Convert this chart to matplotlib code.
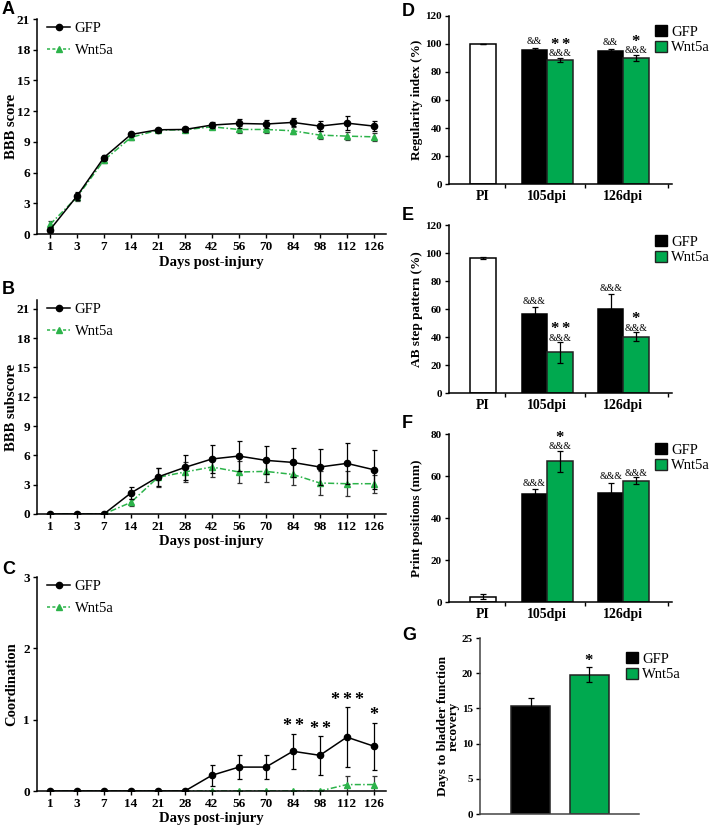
import matplotlib
matplotlib.use('Agg')
import matplotlib.pyplot as plt
from matplotlib.patches import Patch
from matplotlib.lines import Line2D

plt.rcParams['font.family'] = 'Liberation Serif'
plt.rcParams['font.weight'] = 'bold'
plt.rcParams['axes.labelweight'] = 'bold'
plt.rcParams['mathtext.fontset'] = 'custom'
plt.rcParams['mathtext.rm'] = 'Liberation Serif'
plt.rcParams['mathtext.bf'] = 'Liberation Serif:bold'

# ---- data ----
days = ['1', '3', '7', '14', '21', '28', '42', '56', '70', '84', '98', '112', '126']

bbb_gfp = [0.41, 3.7, 7.47, 9.72, 10.18, 10.21, 10.64, 10.8, 10.74, 10.9, 10.54, 10.83, 10.54]
bbb_gfp_err = [0.25, 0.4, 0.25, 0.15, 0.2, 0.2, 0.3, 0.4, 0.35, 0.4, 0.5, 0.7, 0.5]
bbb_wnt = [0.93, 3.6, 7.2, 9.43, 10.15, 10.18, 10.47, 10.21, 10.21, 10.08, 9.66, 9.56, 9.49]
bbb_wnt_err = [0.35, 0.4, 0.3, 0.2, 0.15, 0.2, 0.2, 0.3, 0.3, 0.35, 0.4, 0.4, 0.4]

sub_gfp = [0, 0, 0, 2.15, 3.79, 4.77, 5.63, 5.93, 5.49, 5.28, 4.81, 5.18, 4.53]
sub_gfp_err = [0, 0, 0, 0.57, 0.9, 1.25, 1.45, 1.55, 1.43, 1.47, 1.87, 2.08, 1.97]
sub_wnt = [0, 0, 0, 1.19, 3.75, 4.3, 4.81, 4.3, 4.36, 4.05, 3.17, 3.1, 3.1]
sub_wnt_err = [0, 0, 0, 0.35, 1.0, 1.0, 1.0, 1.1, 1.1, 1.1, 1.25, 1.3, 0.9]

coord_gfp = [0, 0, 0, 0, 0, 0, 0.22, 0.335, 0.335, 0.557, 0.5, 0.755, 0.628]
coord_gfp_err = [0, 0, 0, 0, 0, 0, 0.15, 0.167, 0.167, 0.245, 0.27, 0.42, 0.33]
coord_wnt = [0, 0, 0, 0, 0, 0, 0, 0, 0, 0, 0, 0.09, 0.09]
coord_wnt_err = [0, 0, 0, 0, 0, 0, 0, 0, 0, 0, 0, 0.12, 0.12]
coord_stars = ['', '', '', '', '', '', '', '', '', '**', '**', '***', '*']

groups = ['PI', '105dpi', '126dpi']

reg_pi, reg_pi_err = 100, 0.3
reg_gfp, reg_gfp_err = [95.7, 95.2], [1.7, 1.5]
reg_wnt, reg_wnt_err = [88.6, 90.2], [1.7, 2.0]
reg_gfp_amp = ['&&', '&&']
reg_wnt_amp = ['&&&', '&&&']
reg_wnt_star = ['**', '*']

ab_pi, ab_pi_err = 96.4, 1.0
ab_gfp, ab_gfp_err = [56.7, 60.0], [4.6, 10.5]
ab_wnt, ab_wnt_err = [29.0, 40.2], [7.3, 3.2]
ab_gfp_amp = ['&&&', '&&&']
ab_wnt_amp = ['&&&', '&&&']
ab_wnt_star = ['**', '*']

pp_pi, pp_pi_err = 2.4, 1.2
pp_gfp, pp_gfp_err = [51.3, 51.9], [2.4, 5.0]
pp_wnt, pp_wnt_err = [67.1, 57.8], [5.0, 1.6]
pp_gfp_amp = ['&&&', '&&&']
pp_wnt_amp = ['&&&', '&&&']
pp_wnt_star = ['*', '']

bl_vals = [15.4, 19.8]
bl_err = [1.1, 1.1]
bl_star = ['', '*']

GREEN_LINE = '#2cb34a'
GREEN_BAR = '#00a94f'

W, H = 709, 830
fig = plt.figure(figsize=(W / 100, H / 100), dpi=100)


def px_axes(l, t, r, b):
    return fig.add_axes([l / W, 1 - b / H, (r - l) / W, (b - t) / H])


def style(ax):
    for s in ['top', 'right']:
        ax.spines[s].set_visible(False)
    for s in ['left', 'bottom']:
        ax.spines[s].set_linewidth(1.1)
    ax.tick_params(direction='out', length=3, width=1, pad=2)


def line_panel(ax, gfp, gfp_err, wnt, wnt_err, ylim, yticks, ylabel):
    x = list(range(len(days)))
    ax.errorbar(x, gfp, yerr=gfp_err, color='black', lw=1.1, marker='o', ms=4.5,
                capsize=1.8, elinewidth=0.9, capthick=0.9, zorder=3)
    ax.errorbar(x, wnt, yerr=wnt_err, color=GREEN_LINE, lw=1.1, marker='^', ms=4,
                ls=(0, (4, 1.5, 1, 1.5)), capsize=1.8, elinewidth=0.9, capthick=0.9,
                ecolor='#333333', zorder=2)
    ax.set_xlim(-0.48, 12.45)
    ax.set_ylim(*ylim)
    ax.set_yticks(yticks)
    ax.set_xticks(x)
    ax.set_xticklabels(days)
    ax.tick_params(labelsize=9.5)
    style(ax)
    ax.set_ylabel(ylabel, fontsize=10.5)
    ax.yaxis.set_label_coords(-0.055, 0.5)
    ax.set_xlabel('Days post-injury', fontsize=10.5)
    ax.xaxis.set_label_coords(0.5, -0.10)
    h1 = Line2D([], [], color='black', marker='o', ms=4.5, lw=1.1)
    h2 = Line2D([], [], color=GREEN_LINE, marker='^', ms=4, lw=1.1, ls=(0, (2, 1.5)))
    ax.legend([h1, h2], ['GFP', 'Wnt5a'], loc='upper left', frameon=False,
              bbox_to_anchor=(0.02, 1.0), borderaxespad=0, borderpad=0.2,
              handlelength=1.6, handletextpad=0.3, labelspacing=0.6,
              prop={'family': 'Liberation Serif', 'weight': 'normal', 'size': 10.5})


def amp(ax, x, y, s, dy):
    if s:
        ax.annotate(s, xy=(x, y), xytext=(0, dy), textcoords='offset pixels',
                    ha='center', va='center', fontsize=7, fontweight='normal')


def star(ax, x, y, s, dy, size):
    # mathtext keeps the box tight round the asterisks
    if s:
        t = '$' + r'\,'.join(['{*}'] * len(s)) + '$'
        ax.annotate(t, xy=(x, y), xytext=(0, dy), textcoords='offset pixels',
                    ha='center', va='center', fontsize=size)


pi_x = 0
gfp_x = [1.98, 4.9]
wnt_x = [2.96, 5.88]
grp_x = [0, 2.47, 5.39]
bounds = [0.85, 3.92, 7.1]


def bar_panel(ax, pi, pi_err, gfp, gfp_err, wnt, wnt_err, gamp, wamp, wstar, ylim, yticks, ylabel):
    ax.bar(pi_x, pi, width=0.98, color='white', edgecolor='black', lw=1.1,
           yerr=pi_err, capsize=2, error_kw={'elinewidth': 0.9, 'capthick': 0.9})
    ax.bar(gfp_x, gfp, width=0.98, color='black', edgecolor='black', lw=1.1,
           yerr=[[0, 0], gfp_err], capsize=2, error_kw={'elinewidth': 0.9, 'capthick': 0.9})
    ax.bar(wnt_x, wnt, width=0.98, color=GREEN_BAR, edgecolor='#222222', lw=1.1,
           yerr=wnt_err, capsize=2, error_kw={'elinewidth': 0.9, 'capthick': 0.9})
    for i in range(2):
        amp(ax, gfp_x[i], gfp[i] + gfp_err[i], gamp[i], 6)
        amp(ax, wnt_x[i], wnt[i] + wnt_err[i], wamp[i], 4)
        star(ax, wnt_x[i], wnt[i] + wnt_err[i], wstar[i], 15, 12)
    ax.set_xlim(-1.3, 7.25)
    ax.set_ylim(*ylim)
    ax.set_yticks(yticks)
    ax.set_xticks(bounds)
    ax.set_xticklabels([])
    ax.set_xticks(grp_x, minor=True)
    ax.set_xticklabels(groups, minor=True, fontsize=10)
    ax.tick_params(axis='x', which='minor', length=0, pad=4)
    style(ax)
    ax.tick_params(axis='y', labelsize=8)
    ax.set_ylabel(ylabel, fontsize=9.5)
    ax.yaxis.set_label_coords(-0.115, 0.5)


def bar_legend(x, y):
    hs = [Patch(facecolor='black', edgecolor='black'),
          Patch(facecolor=GREEN_BAR, edgecolor='#222222')]
    fig.legend(hs, ['GFP', 'Wnt5a'], loc='upper left', bbox_to_anchor=(x / W, 1 - y / H),
               frameon=False, borderpad=0, borderaxespad=0, handlelength=0.8,
               handleheight=0.8, handletextpad=0.3, labelspacing=0.15,
               prop={'family': 'Liberation Serif', 'weight': 'normal', 'size': 10.5})


# ---- A, B, C ----
axA = px_axes(37, 19, 386, 234)
line_panel(axA, bbb_gfp, bbb_gfp_err, bbb_wnt, bbb_wnt_err, (0, 21), range(0, 22, 3), 'BBB score')

axB = px_axes(37, 300, 386, 514)
line_panel(axB, sub_gfp, sub_gfp_err, sub_wnt, sub_wnt_err, (0, 21.9), range(0, 22, 3), 'BBB subscore')

axC = px_axes(37, 577, 386, 791)
line_panel(axC, coord_gfp, coord_gfp_err, coord_wnt, coord_wnt_err, (0, 3), range(0, 4), 'Coordination')
for i, s in enumerate(coord_stars):
    star(axC, i, coord_gfp[i] + coord_gfp_err[i], s, 9, 13)

# ---- D, E, F ----
axD = px_axes(449, 16, 672, 184)
bar_panel(axD, reg_pi, reg_pi_err, reg_gfp, reg_gfp_err, reg_wnt, reg_wnt_err,
          reg_gfp_amp, reg_wnt_amp, reg_wnt_star, (0, 120), range(0, 121, 20), 'Regularity index (%)')
bar_legend(655, 25)

axE = px_axes(449, 225, 672, 393)
bar_panel(axE, ab_pi, ab_pi_err, ab_gfp, ab_gfp_err, ab_wnt, ab_wnt_err,
          ab_gfp_amp, ab_wnt_amp, ab_wnt_star, (0, 120), range(0, 121, 20), 'AB step pattern (%)')
bar_legend(655, 235)

axF = px_axes(449, 434, 672, 602)
bar_panel(axF, pp_pi, pp_pi_err, pp_gfp, pp_gfp_err, pp_wnt, pp_wnt_err,
          pp_gfp_amp, pp_wnt_amp, pp_wnt_star, (0, 80), range(0, 81, 20), 'Print positions (mm)')
bar_legend(655, 443)

# ---- G ----
axG = px_axes(480, 638, 639, 814)
axG.bar([1, 2], bl_vals, width=0.667, color=['black', GREEN_BAR], edgecolor='#222222', lw=1.1,
        yerr=bl_err, capsize=2, error_kw={'elinewidth': 0.9, 'capthick': 0.9})
for i, s in enumerate(bl_star):
    star(axG, i + 1, bl_vals[i] + bl_err[i], s, 8, 12)
axG.set_xlim(0.137, 2.85)
axG.set_ylim(0, 25)
axG.set_yticks(range(0, 26, 5))
axG.set_xticks([])
style(axG)
for s in ['left', 'bottom']:
    axG.spines[s].set_color('#444444')
axG.tick_params(axis='y', labelsize=8)
axG.set_ylabel('Days to bladder function\nrecovery', fontsize=9.5, linespacing=0.9)
axG.yaxis.set_label_coords(-0.125, 0.5)
bar_legend(626, 652)

# panel letters
for lab, x, y in [('A', 2, 10), ('B', 2, 289), ('C', 2, 569), ('D', 402, 12),
                  ('E', 402, 215), ('F', 402, 423), ('G', 402, 635)]:
    fig.text(x / W, 1 - y / H, lab, fontsize=13, fontweight='bold',
             family='Liberation Sans', va='center', ha='left')

fig.savefig('out.png', dpi=100)
